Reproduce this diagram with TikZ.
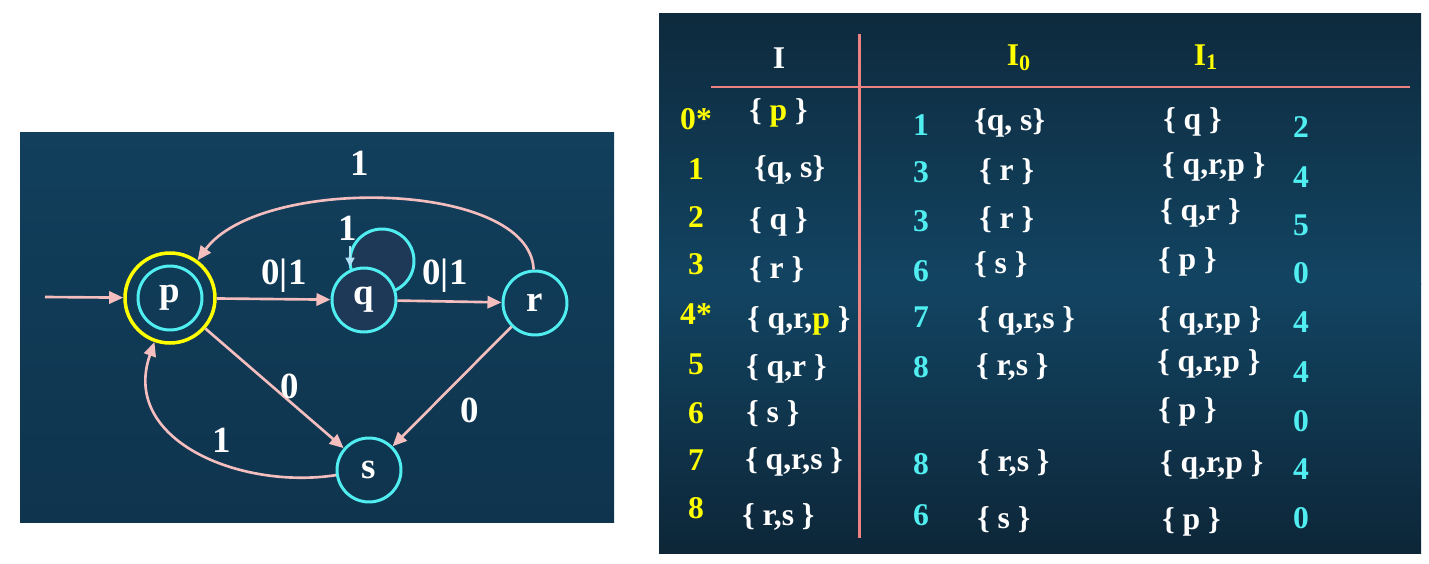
\documentclass[tikz,border=0pt]{standalone}
\usepackage{fontspec}
\setmainfont{Liberation Serif}
\usetikzlibrary{arrows.meta}

\definecolor{paneltop}{RGB}{17,63,92}
\definecolor{panelbot}{RGB}{15,52,78}
\definecolor{tabtop}{RGB}{14,42,61}
\definecolor{tabmid}{RGB}{18,68,98}
\definecolor{tabbot}{RGB}{13,38,56}
\definecolor{qfill}{RGB}{30,56,88}
\definecolor{pinkc}{RGB}{245,190,190}
\definecolor{cyanc}{RGB}{80,238,240}
\definecolor{yellowc}{RGB}{255,255,0}
\definecolor{rulec}{RGB}{236,130,130}
\definecolor{loopc}{RGB}{175,225,245}

\newcommand{\yl}[1]{\textcolor{yellowc}{#1}}

\begin{document}
\begin{tikzpicture}[x=0.02cm,y=-0.02cm,
  state/.style={circle, draw=cyanc, line width=1.7pt, minimum size=1.28cm,
    inner sep=0pt, text=white, font=\bfseries\fontsize{21}{21}\selectfont},
  edge/.style={draw=pinkc, line width=1.5pt, -{Triangle[length=8pt,width=7pt]}},
  lbl/.style={text=white, font=\bfseries\fontsize{21}{21}\selectfont},
  cell/.style={text=white, font=\bfseries\fontsize{18}{18}\selectfont, inner sep=0pt},
  rule/.style={draw=rulec, line width=1.7pt}]

  \useasboundingbox (0,0) rectangle (1429,564);
  \fill[white] (0,0) rectangle (1429,564);

  % the automaton
  \shade[top color=paneltop, bottom color=panelbot] (20,133) rectangle (614,522);

  \node[state, fill=qfill] (qloop) at (382,261) {};
  \node[state] (pin) at (170,298) {p};
  \node[circle, draw=yellowc, line width=2pt, minimum size=1.8cm] (p) at (170,298) {};
  \node[state, fill=qfill] (q) at (364,300) {q};
  \node[state] (r) at (535,303) {r};
  \node[state] (s) at (369,470) {s};

  \coordinate (start) at (45,297);
  \draw[edge] (start) -- (p);
  \draw[edge] (p) -- (q);
  \draw[edge] (q) -- (r);
  \draw[edge] (r) .. controls (530,180) and (260,175) .. (p);
  \draw[edge] (p) -- (s);
  \draw[edge] (r) -- (s);
  \draw[edge] (s) .. controls (240,490) and (120,440) .. (p);

  \coordinate (lpa) at (350,246);
  \draw[draw=loopc, line width=1.2pt, -{Triangle[length=5pt,width=5pt]}] (lpa) -- (lpa |- q.north);

  \node[lbl] (l1) at (360,163) {1};
  \node[lbl] (l2) at (284,276) {0|1};
  \node[lbl] (l3) at (445,276) {0|1};
  \node[lbl] (l4) at (348,228) {1};
  \node[lbl] (l5) at (290,386) {0};
  \node[lbl] (l6) at (470,410) {0};
  \node[lbl] (l7) at (222,440) {1};

  % the subset table
  \shade[top color=tabtop, bottom color=tabmid] (659,14) rectangle (1421,284);
  \shade[top color=tabmid, bottom color=tabbot] (659,283) rectangle (1421,553);
  \draw[rule] (859,34) -- (859,538);
  \draw[rule] (711,87) -- (1410,87);

  \node[cell] (hI) at (779,58) {I};
  \node[cell, text=yellowc] (hI0) at (1019,58) {I\textsubscript{0}};
  \node[cell, text=yellowc] (hI1) at (1206,57) {I\textsubscript{1}};

  \foreach \yy/\t [count=\i] in {119/0*,169/1,217/2,264/3,314/4*,364/5,413/6,460/7,508/8}
    \node[cell, text=yellowc] (k\i) at (696,\yy) {\t};

  \foreach \xx/\yy/\t [count=\i] in {749/113/{\{ \yl{p} \}}, 754/170/{\{q, s\}},
      749/222/{\{ q \}}, 749/270/{\{ r \}}, 747/321/{\{ q,r,\yl{p} \}},
      746/369/{\{ q,r \}}, 746/414/{\{ s \}}, 745/462/{\{ q,r,s \}}, 742/517/{\{ r,s \}}}
    \node[cell, anchor=west] (a\i) at (\xx,\yy) {\t};

  \foreach \yy/\t [count=\i] in {125/1,172/3,221/3,271/6,317/7,367/8,464/8,515/6}
    \node[cell, text=cyanc] (b\i) at (921,\yy) {\t};

  \foreach \xx/\yy/\t [count=\i] in {974/123/{\{q, s\}}, 979/172/{\{ r \}},
      979/220/{\{ r \}}, 974/265/{\{ s \}}, 977/321/{\{ q,r,s \}},
      976/367/{\{ r,s \}}, 977/463/{\{ r,s \}}, 977/520/{\{ s \}}}
    \node[cell, anchor=west] (c\i) at (\xx,\yy) {\t};

  \foreach \xx/\yy/\t [count=\i] in {1163/122/{\{ q \}}, 1162/167/{\{ q,r,p \}},
      1160/213/{\{ q,r \}}, 1158/262/{\{ p \}}, 1158/321/{\{ q,r,p \}},
      1157/364/{\{ q,r,p \}}, 1158/412/{\{ p \}}, 1160/465/{\{ q,r,p \}}, 1162/522/{\{ p \}}}
    \node[cell, anchor=west] (d\i) at (\xx,\yy) {\t};

  \foreach \yy/\t [count=\i] in {127/2,177/4,225/5,273/0,322/4,372/4,421/0,469/4,518/0}
    \node[cell, text=cyanc] (e\i) at (1301,\yy) {\t};
\end{tikzpicture}
\end{document}
